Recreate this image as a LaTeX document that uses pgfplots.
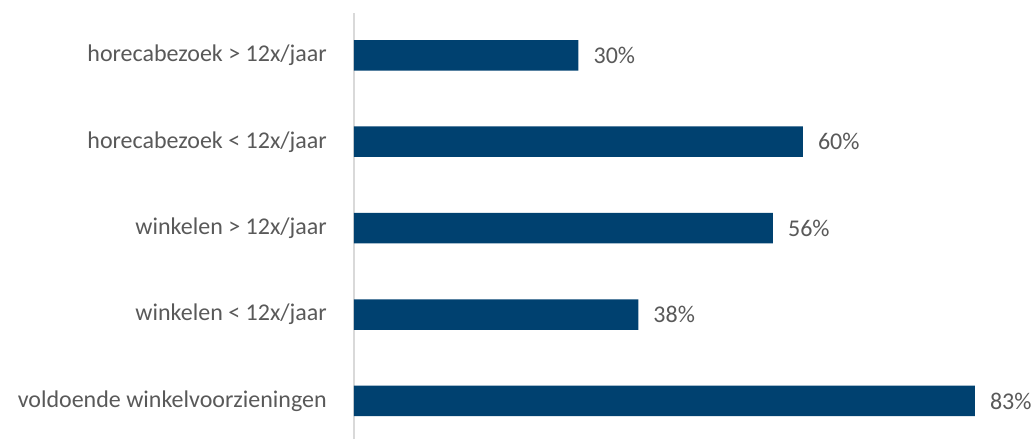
\documentclass[border=0pt]{standalone}
\usepackage{pgfplots}
\pgfplotsset{compat=1.18}
\usepackage{fontspec}
\setmainfont{Carlito}
\definecolor{barblue}{RGB}{0,65,112}
\definecolor{txt}{RGB}{89,89,89}
\definecolor{axgray}{RGB}{217,217,217}
\begin{document}
\begin{tikzpicture}
\begin{axis}[
  at={(0,0)}, anchor=south west,
  scale only axis, width=676pt, height=426pt,
  xmin=0, xmax=90.37, ymin=-0.44, ymax=4.49,
  xbar, bar width=30.5pt,
  axis x line=none, axis y line=left,
  axis line style={draw=axgray, line width=1.5pt, -},
  ytick={0,1,2,3,4},
  yticklabels={voldoende winkelvoorzieningen, winkelen < 12x/jaar, winkelen > 12x/jaar, horecabezoek < 12x/jaar, horecabezoek > 12x/jaar},
  major tick length=0pt,
  yticklabel style={font=\fontsize{24}{28}\selectfont, text=txt, inner sep=0pt, anchor=east, xshift=-27pt},
  /pgf/number format/assume math mode=true,
  point meta=x,
  nodes near coords={\pgfmathprintnumber{\pgfplotspointmeta}\%},
  nodes near coords style={font=\fontsize{24}{28}\selectfont, text=txt, anchor=west, inner sep=0pt, xshift=15pt},
  clip=false,
]
\addplot[fill=barblue, draw=none] coordinates {(83,0) (38,1) (56,2) (60,3) (30,4)};
\end{axis}
\pgfresetboundingbox
\path[use as bounding box] (-354pt,0pt) rectangle (681pt,439pt);
\end{tikzpicture}
\end{document}
